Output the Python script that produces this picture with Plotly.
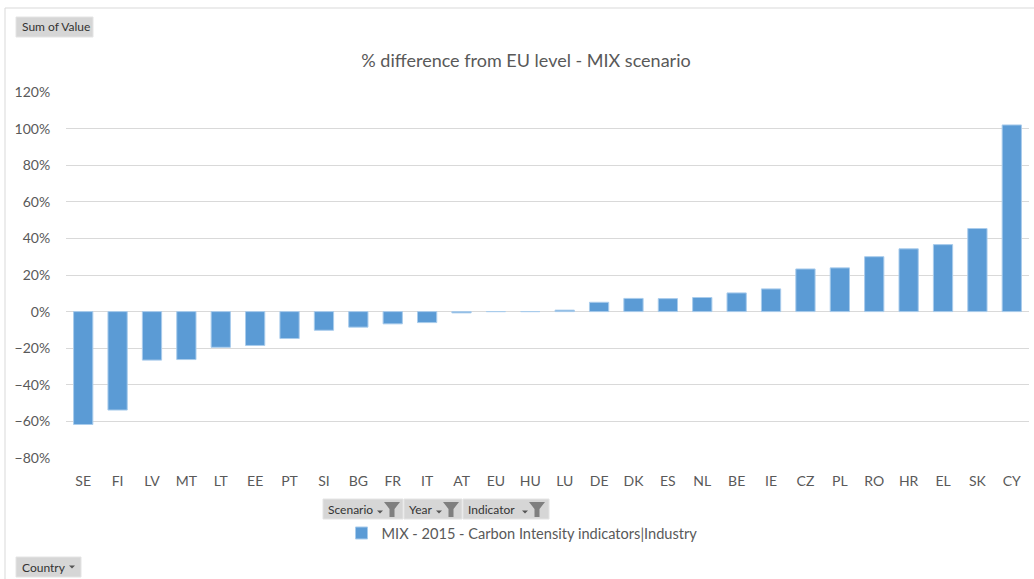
import plotly.graph_objects as go

# Country codes, ordered from lowest to highest
countries = ["SE", "FI", "LV", "MT", "LT", "EE", "PT", "SI", "BG", "FR", "IT", "AT", "EU", "HU",
             "LU", "DE", "DK", "ES", "NL", "BE", "IE", "CZ", "PL", "RO", "HR", "EL", "SK", "CY"]
# % difference from EU level (fractions)
values = [-0.617, -0.538, -0.265, -0.262, -0.195, -0.185, -0.147, -0.102, -0.085, -0.067, -0.060,
          -0.007, 0.0, 0.0, 0.008, 0.051, 0.072, 0.071, 0.077, 0.102, 0.124, 0.233, 0.239, 0.300,
          0.343, 0.366, 0.454, 1.020]
series_name = "MIX - 2015 - Carbon Intensity indicators|Industry"
title_text = "% difference from EU level - MIX scenario"
y_ticks = [-0.8, -0.6, -0.4, -0.2, 0.0, 0.2, 0.4, 0.6, 0.8, 1.0, 1.2]

W, H = 1034, 579
L, R, T, B = 66, 1029, 92, 458
FONT = "Lato, Calibri, Carlito, sans-serif"
TXT = "#595959"
BAR = "#5B9BD5"


def px(x):
    return (x - L) / (R - L)


def py(y):
    return (B - y) / (B - T)


fig = go.Figure()
fig.add_trace(go.Bar(
    x=countries, y=values, name=series_name,
    marker=dict(color=BAR, line=dict(color="#A9CCEC", width=1)),
    showlegend=True,
))

shapes = []
annotations = []

# outer chart border (left and top edges)
shapes.append(dict(type="line", xref="paper", yref="paper",
                   x0=px(5), x1=px(5), y0=py(8), y1=py(579), line=dict(color="#D9D9D9", width=1)))
shapes.append(dict(type="line", xref="paper", yref="paper",
                   x0=px(5), x1=px(1034), y0=py(8), y1=py(8), line=dict(color="#D9D9D9", width=1)))


def button(x0, y0, x1, y1, label, tx, arrow=None, funnel=None):
    shapes.append(dict(type="rect", xref="paper", yref="paper", layer="above",
                       x0=px(x0), x1=px(x1), y0=py(y1), y1=py(y0),
                       fillcolor="#D6D6D6", line=dict(color="#E4E4E4", width=1)))
    annotations.append(dict(text=label, xref="paper", yref="paper", x=px(tx), y=py((y0 + y1) / 2),
                            xanchor="left", yanchor="middle", showarrow=False,
                            font=dict(family=FONT, size=12, color="#333333")))
    if arrow is not None:
        ax, ay = arrow
        shapes.append(dict(type="path", xref="paper", yref="paper", layer="above",
                           path=f"M {px(ax-3)},{py(ay-1.5)} L {px(ax+3)},{py(ay-1.5)} L {px(ax)},{py(ay+1.5)} Z",
                           fillcolor="#555555", line=dict(width=0)))
    if funnel is not None:
        fx, fy = funnel
        pts = [(fx - 8, fy - 7), (fx + 8, fy - 7), (fx + 2.5, fy), (fx + 2.5, fy + 8),
               (fx - 2.5, fy + 8), (fx - 2.5, fy)]
        path = "M " + " L ".join(f"{px(a)},{py(b)}" for a, b in pts) + " Z"
        shapes.append(dict(type="path", xref="paper", yref="paper", layer="above",
                           path=path, fillcolor="#7F7F7F", line=dict(width=0)))


button(16, 17, 93, 37, "Sum of Value", 20)
button(323, 499, 403, 519, "Scenario", 326, arrow=(380, 512), funnel=(392, 509))
button(404, 499, 462, 519, "Year", 407, arrow=(439, 512), funnel=(451, 509))
button(463, 499, 549, 519, "Indicator", 466, arrow=(525, 512), funnel=(537, 509))
button(16, 557, 81, 577, "Country", 20, arrow=(72, 567))

fig.update_layout(
    width=W, height=H,
    margin=dict(l=L, r=W - R, t=T, b=H - B),
    paper_bgcolor="white", plot_bgcolor="white",
    font=dict(family=FONT, size=14, color=TXT),
    title=dict(text=title_text, x=px(526), xref="paper", xanchor="center",
               y=1 - 61 / H, yanchor="middle",
               font=dict(family=FONT, size=18, color=TXT)),
    bargap=0.44,
    xaxis=dict(showgrid=False, zeroline=False, showline=False, ticks="outside", ticklen=10,
               tickcolor="rgba(0,0,0,0)", tickfont=dict(size=14, color=TXT)),
    yaxis=dict(range=[-0.8, 1.2], tickvals=y_ticks, tickformat=".0%", showgrid=True,
               gridcolor="#D9D9D9", gridwidth=1, zeroline=False, showline=False,
               ticks="outside", ticklen=12, tickcolor="rgba(0,0,0,0)",
               tickfont=dict(size=14, color=TXT)),
    legend=dict(orientation="h", x=px(522), xanchor="center", y=py(533), yanchor="middle",
                font=dict(family=FONT, size=14.6, color=TXT), itemwidth=30,
                bgcolor="rgba(0,0,0,0)"),
    shapes=shapes,
    annotations=annotations,
)

fig.write_html("out.html")
